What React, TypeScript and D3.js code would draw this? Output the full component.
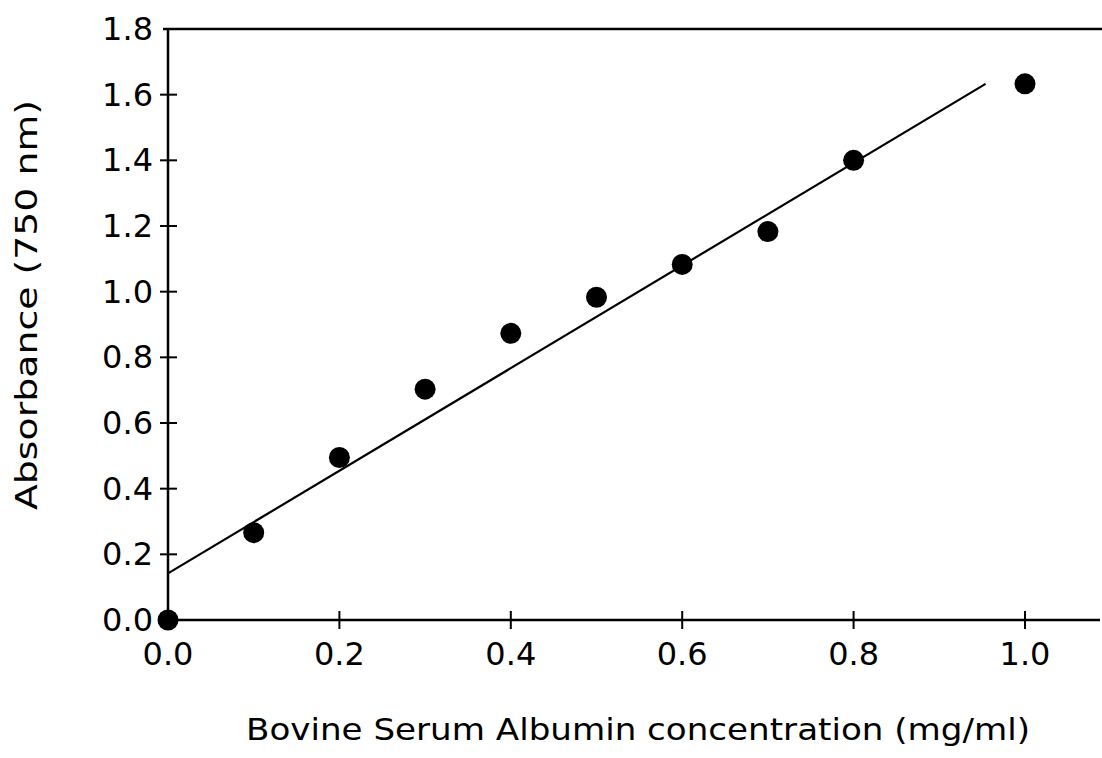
import React from "react";
import * as d3 from "d3";

const concentrations = [0, 0.1, 0.2, 0.3, 0.4, 0.5, 0.6, 0.7, 0.8, 1.0];
const absorbances = [0, 0.266, 0.495, 0.703, 0.873, 0.983, 1.083, 1.183, 1.4, 1.633];
const fitX = [0, 0.954];
const fitY = [0.142, 1.633];
const xTicks = [0, 0.2, 0.4, 0.6, 0.8, 1.0];
const yTicks = [0, 0.2, 0.4, 0.6, 0.8, 1.0, 1.2, 1.4, 1.6, 1.8];
const xLabel = "Bovine Serum Albumin concentration (mg/ml)";
const yLabel = "Absorbance (750 nm)";

const W = 1102;
const H = 758;
const FONT = "'DejaVu Sans', sans-serif";

export default function App() {
  const x = d3.scaleLinear().domain([0, 1]).range([168, 1025]);
  const y = d3.scaleLinear().domain([0, 1.8]).range([620, 29]);
  const xMaxEdge = 1.0875;
  const line = d3
    .line<number>()
    .x((_, i) => x(fitX[i]))
    .y((d) => y(d));
  const fmt = d3.format(".1f");

  return (
    <svg
      width={W}
      height={H}
      style={{ position: "absolute", left: 0, top: 0, background: "#fff" }}
    >
      <rect width={W} height={H} fill="#fff" />
      <line x1={x(0) - 5} x2={W} y1={y(1.8)} y2={y(1.8)} stroke="#000" strokeWidth={2.5} />
      <line x1={x(0)} x2={x(0)} y1={y(1.8)} y2={y(0)} stroke="#000" strokeWidth={2.5} />
      <line x1={x(0)} x2={x(xMaxEdge)} y1={y(0)} y2={y(0)} stroke="#000" strokeWidth={2.5} />
      {yTicks.map((t) => (
        <g key={"y" + t}>
          {t > 0 && t < 1.8 && (
            <line x1={x(0) - 8} x2={x(0) + 9} y1={y(t)} y2={y(t)} stroke="#000" strokeWidth={2} />
          )}
          <text
            x={153}
            y={y(t)}
            dy="0.34em"
            textAnchor="end"
            fontFamily={FONT}
            fontSize={32}
            fill="#000"
          >
            {fmt(t)}
          </text>
        </g>
      ))}
      {xTicks.map((t) => (
        <g key={"x" + t}>
          {t > 0 && (
            <line x1={x(t)} x2={x(t)} y1={y(0) - 9} y2={y(0) + 9} stroke="#000" strokeWidth={2} />
          )}
          <text
            x={x(t)}
            y={665}
            textAnchor="middle"
            fontFamily={FONT}
            fontSize={32}
            fill="#000"
          >
            {fmt(t)}
          </text>
        </g>
      ))}
      <path d={line(fitY) || ""} fill="none" stroke="#000" strokeWidth={2.2} />
      {concentrations.map((c, i) => (
        <circle key={"p" + i} cx={x(c)} cy={y(absorbances[i])} r={10.5} fill="#000" />
      ))}
      <text
        x={638}
        y={740}
        textAnchor="middle"
        fontFamily={FONT}
        fontSize={31}
        textLength={784}
        lengthAdjust="spacingAndGlyphs"
        fill="#000"
      >
        {xLabel}
      </text>
      <text
        transform={`translate(37,305) rotate(-90)`}
        textAnchor="middle"
        fontFamily={FONT}
        fontSize={31}
        textLength={410}
        lengthAdjust="spacingAndGlyphs"
        fill="#000"
      >
        {yLabel}
      </text>
    </svg>
  );
}
